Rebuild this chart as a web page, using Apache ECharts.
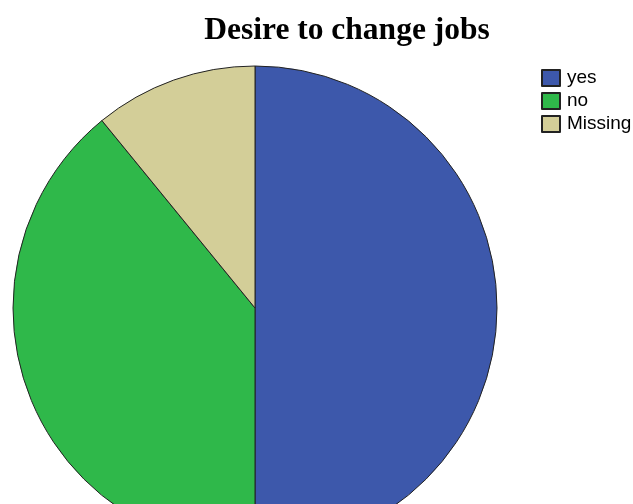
<!DOCTYPE html>
<html>
<head>
<meta charset="utf-8">
<script src="https://cdn.jsdelivr.net/npm/echarts@6/dist/echarts.min.js"></script>
<style>
  html, body { margin: 0; padding: 0; background: #fff; }
  #chart { width: 633px; height: 504px; }
</style>
</head>
<body>
<div id="chart"></div>
<script>
  // answers and their shares (percent)
  const categories = ['yes', 'no', 'Missing']
  const values = [50, 39.1, 10.9]
  const colors = ['#3d58ab', '#2fb84a', '#d3ce98']

  const chart = echarts.init(document.getElementById('chart'))

  const option = {
    animation: false,
    title: {
      text: 'Desire to change jobs',
      left: 342,
      textAlign: 'center',
      top: 10,
      textStyle: {
        fontFamily: 'Liberation Serif',
        fontWeight: 'bold',
        fontSize: 31.5,
        color: '#000'
      }
    },
    legend: {
      orient: 'vertical',
      left: 541,
      top: 68,
      padding: 0,
      itemWidth: 18,
      itemHeight: 16,
      itemGap: 3,
      icon: 'rect',
      data: categories,
      textStyle: {
        fontFamily: 'Liberation Sans',
        fontSize: 19,
        lineHeight: 20,
        color: '#000',
        padding: [0, 0, 0, 2]
      }
    },
    series: [{
      type: 'pie',
      center: [255, 308],
      radius: 242,
      startAngle: 90,
      clockwise: true,
      label: { show: false },
      labelLine: { show: false },
      emphasis: { disabled: true },
      itemStyle: { borderColor: '#222', borderWidth: 1 },
      data: categories.map((name, i) => ({
        name: name,
        value: values[i],
        itemStyle: { color: colors[i] }
      }))
    }]
  }
  chart.setOption(option)
</script>
</body>
</html>
